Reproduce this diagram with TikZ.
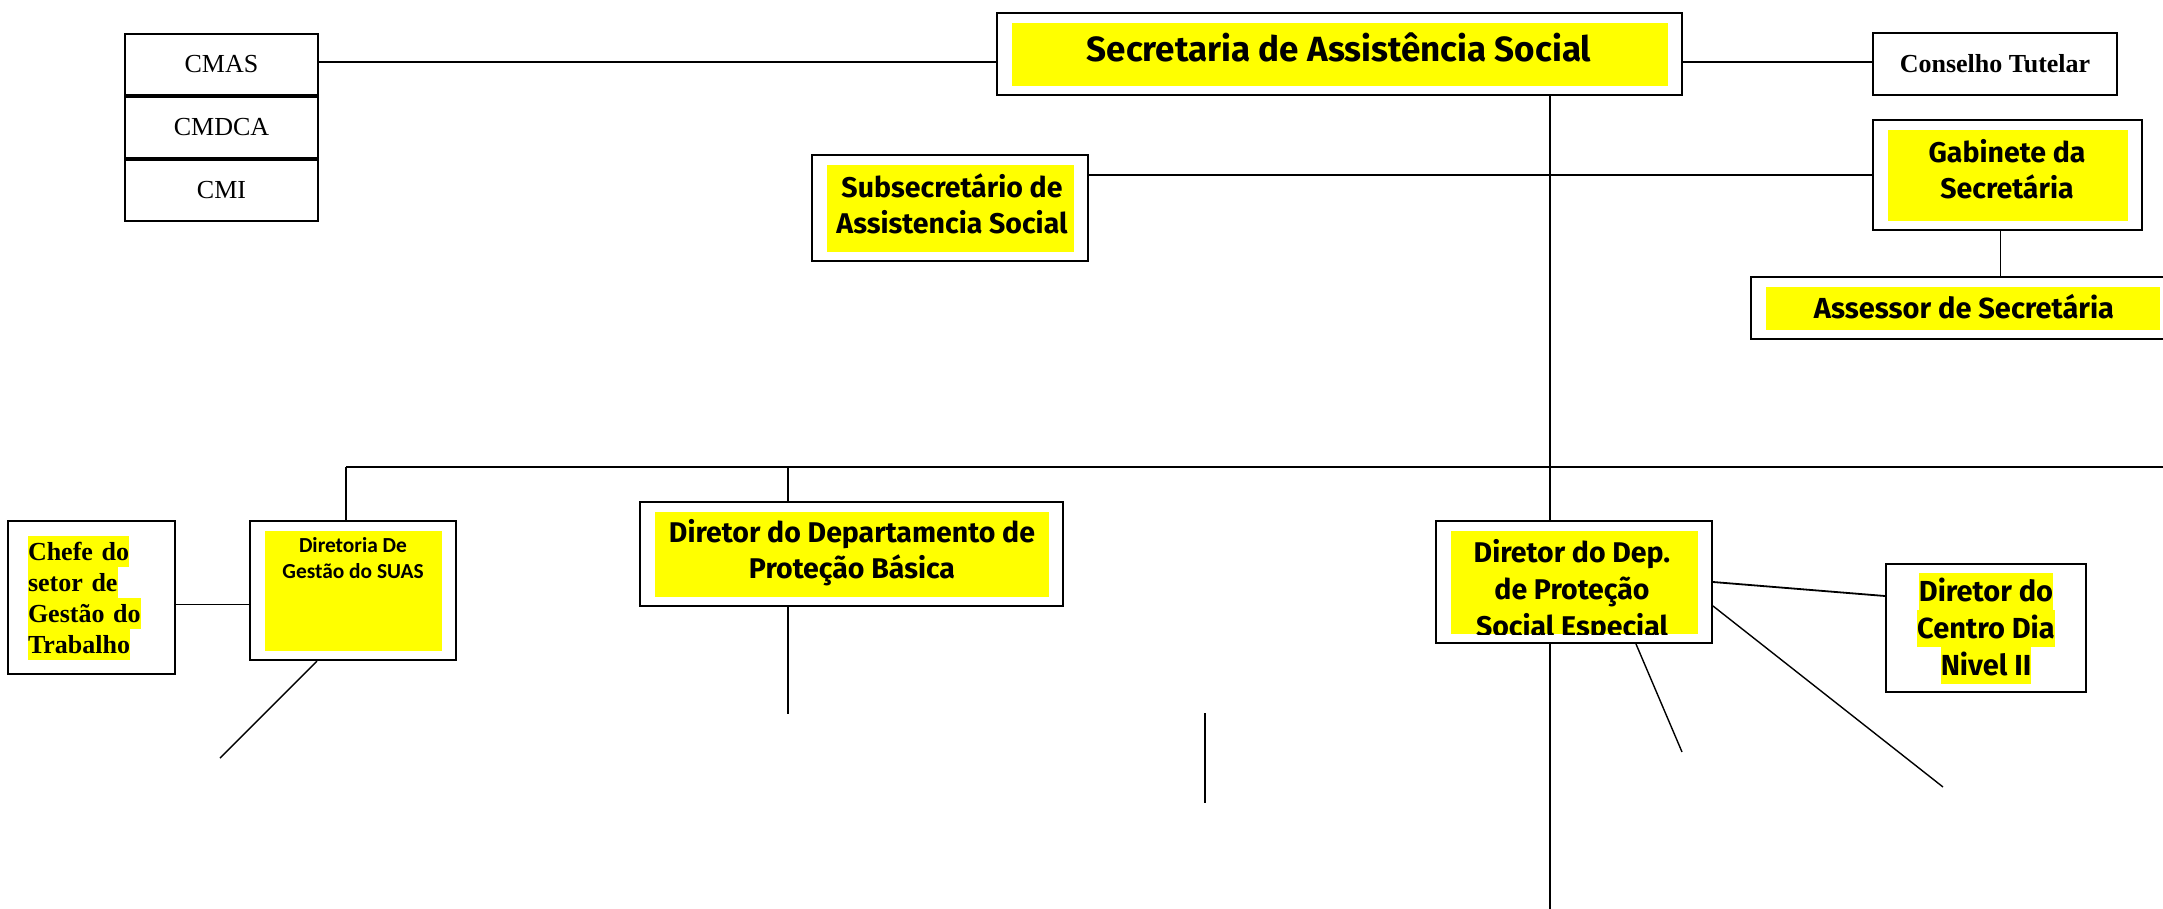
\documentclass[tikz,border=0pt]{standalone}
\usepackage{fontspec}
\setmainfont{Liberation Serif}
\newfontfamily\comicfont{Fira Sans}
\newfontfamily\calibrifont{Carlito}
\usetikzlibrary{positioning}
\setlength{\fboxsep}{0pt}
\definecolor{hlyellow}{RGB}{255,255,0}
\newcommand{\hlline}[3]{\colorbox{hlyellow}{\vrule height#1 depth#2 width0pt #3}}
\newcommand{\yellowinset}[1]{\fill[hlyellow] ([shift={(16pt,-11pt)}]#1.north west) rectangle ([shift={(-15pt,10pt)}]#1.south east);}

\begin{document}
\begin{tikzpicture}[x=1pt,y=-1pt,
	box/.style={draw,line width=2pt,fill=white,inner sep=0pt},
	boxtext/.style={anchor=base,align=center,inner sep=0pt},
	link/.style={line width=1.8pt},
	thin link/.style={line width=1.4pt}]
	\useasboundingbox (0,0) rectangle (2163,908);
	% conselhos
	\node[box,minimum width=193pt,minimum height=61pt,font=\fontsize{26}{30}\selectfont] (cmas) at (221.5,64.5) {CMAS};
	\node[box,minimum width=193pt,minimum height=61pt,font=\fontsize{26}{30}\selectfont,below=0pt of cmas] (cmdca) {CMDCA};
	\node[box,minimum width=193pt,minimum height=61pt,font=\fontsize{26}{30}\selectfont,below=0pt of cmdca] (cmi) {CMI};
	\node[box,minimum width=244pt,minimum height=62pt,font=\bfseries\fontsize{26}{30}\selectfont] (cons) at (1995,64) {Conselho Tutelar};
	% secretaria
	\node[box,minimum width=685pt,minimum height=82pt] (sec) at (1339.5,54) {};
	\yellowinset{sec}
	\node[boxtext,font=\comicfont\bfseries\fontsize{35}{36}\selectfont] (sec text) at (1339,61) {Secretaria de Assistência Social};
	\node[box,minimum width=276pt,minimum height=106pt] (sub) at (950,208) {};
	\yellowinset{sub}
	\node[boxtext,font=\comicfont\bfseries\fontsize{28.5}{36}\selectfont] (sub text) at (952,233) {Subsecretário de\\Assistencia Social};
	\node[box,minimum width=269pt,minimum height=110pt] (gab) at (2007.5,175) {};
	\yellowinset{gab}
	\node[boxtext,font=\comicfont\bfseries\fontsize{28.5}{36}\selectfont] (gab text) at (2007,198) {Gabinete da\\Secretária};
	\node[box,minimum width=423pt,minimum height=62pt] (ass) at (1962.5,308) {};
	\yellowinset{ass}
	\node[boxtext,font=\comicfont\bfseries\fontsize{29}{36}\selectfont] (ass text) at (1964,318) {Assessor de Secretária};
	% diretorias
	\node[box,minimum width=167pt,minimum height=153pt,text width=127pt,align=left,font=\bfseries\fontsize{26}{31}\selectfont] (chefe) at (91.5,597.5)
		{\hlline{25pt}{6pt}{Chefe do}\\\hlline{25pt}{6pt}{setor de}\\\hlline{25pt}{6pt}{Gestão do}\\\hlline{25pt}{6pt}{Trabalho}};
	\node[box,minimum width=206pt,minimum height=139pt] (dsuas) at (353,590.5) {};
	\yellowinset{dsuas}
	\node[boxtext,font=\calibrifont\bfseries\fontsize{21.4}{26}\selectfont] (dsuas text) at (353,578) {Diretoria De\\Gestão do SUAS};
	\node[box,minimum width=423pt,minimum height=104pt] (dpb) at (851.5,554) {};
	\yellowinset{dpb}
	\node[boxtext,font=\comicfont\bfseries\fontsize{28.5}{36}\selectfont] (dpb text) at (852,578) {Diretor do Departamento de\\Proteção Básica};
	\node[box,minimum width=276pt,minimum height=122pt] (dpse) at (1574,582) {};
	\yellowinset{dpse}
	\begin{scope}
		\clip ([shift={(16pt,-11pt)}]dpse.north west) rectangle ([shift={(-15pt,10pt)}]dpse.south east);
		\node[boxtext,font=\comicfont\bfseries\fontsize{28.5}{37}\selectfont] (dpse text) at (1572,636) {Diretor do Dep.\\de Proteção\\Social Especial};
	\end{scope}
	\node[box,minimum width=200pt,minimum height=128pt,align=center,font=\comicfont\bfseries\fontsize{29}{37}\selectfont] (cdia) at (1986,628)
		{\hlline{29pt}{8pt}{Diretor do}\\\hlline{29pt}{8pt}{Centro Dia}\\\hlline{29pt}{8pt}{Nivel II}};
	% pontos soltos
	\coordinate (bus west) at (346,467);
	\coordinate (bus east) at (2175,467);
	\coordinate (bus pb) at (788,467);
	\coordinate (bus trunk) at (1550,467);
	\coordinate (trunk end) at (1550,915);
	\coordinate (pb end) at (788,714);
	\coordinate (suas end) at (220,758);
	\coordinate (free top) at (1205,713);
	\coordinate (free bottom) at (1205,803);
	\coordinate (pse end a) at (1682,752);
	\coordinate (pse end b) at (1943,787);
	% ligacoes
	\draw[link] ([yshift=2.5pt]cmas.east) -- ([yshift=2.5pt]cmas.east -| sec.west);
	\draw[link] ([yshift=2pt]cons.west -| sec.east) -- ([yshift=2pt]cons.west);
	\draw[link] (sec.south -| bus trunk) -- (bus trunk |- dpse.north);
	\draw[link] (bus trunk |- dpse.south) -- (trunk end);
	\draw[link] (sub.east |- gab.west) -- (gab.west);
	\draw[link] ([xshift=-7pt]gab.south) -- ([xshift=-7pt]gab.south |- ass.north);
	\draw[link] (bus west) -- (bus east);
	\draw[link] (bus west) -- (bus west |- dsuas.north);
	\draw[link] (bus pb) -- (bus pb |- dpb.north);
	\draw[link] (bus pb |- dpb.south) -- (pb end);
	\draw[link] ([yshift=-7pt]chefe.east) -- ([yshift=-7pt]chefe.east -| dsuas.west);
	\draw[thin link] ([xshift=-36pt]dsuas.south) -- (suas end);
	\draw[link] (dpse.east) -- ([yshift=32pt]cdia.west);
	\draw[thin link] ([xshift=62pt]dpse.south) -- (pse end a);
	\draw[thin link] ([yshift=-24pt]dpse.east) -- (pse end b);
	\draw[thin link] (free top) -- (free bottom);
\end{tikzpicture}
\end{document}
